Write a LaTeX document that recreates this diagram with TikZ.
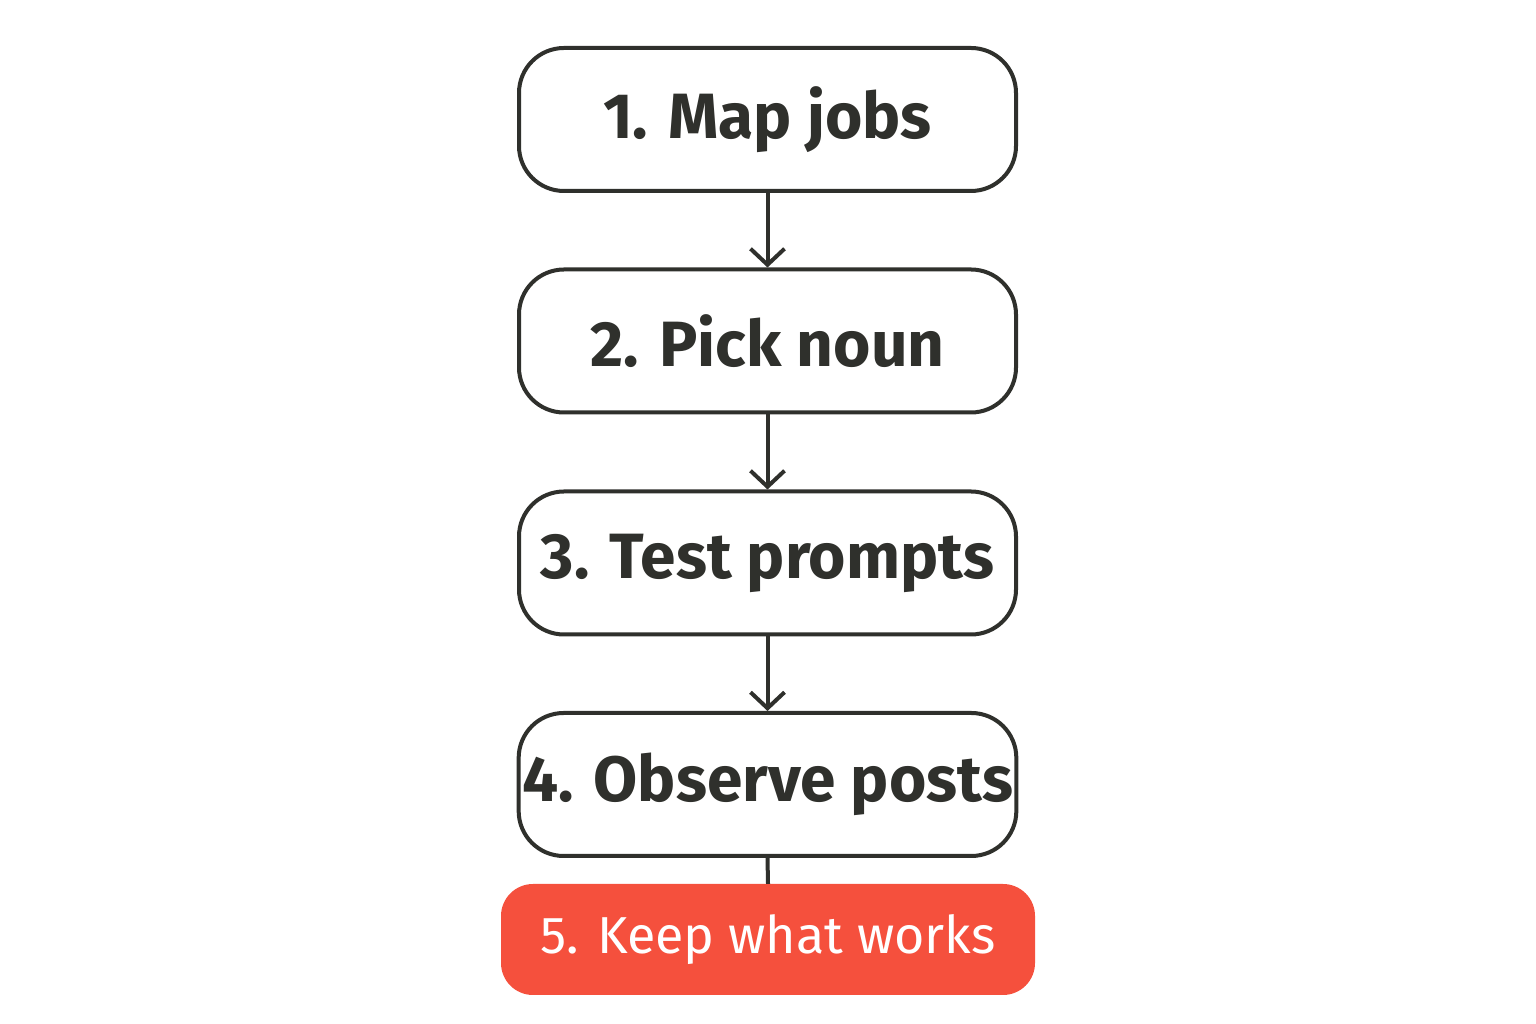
\documentclass[tikz,border=0pt]{standalone}
\usepackage{fontspec}
\setmainfont{Fira Sans}
\usetikzlibrary{arrows.meta}
\definecolor{ink}{HTML}{2F302C}
\definecolor{redbox}{HTML}{F5503D}
\begin{document}
\begin{tikzpicture}[x=1pt,y=1pt,
  stepbox/.style={draw=ink,line width=4pt,rounded corners=45pt,minimum width=497pt,minimum height=143pt,fill=white,text=ink,font=\fontsize{64}{70}\selectfont\bfseries},
  redstep/.style={fill=redbox,rounded corners=32pt,minimum width=534pt,minimum height=111pt,text=white,font=\fontsize{52}{60}\selectfont\mdseries},
  conn/.style={draw=ink,line width=4pt,-{Straight Barb[length=16pt,width=34pt,line width=4pt]}}]
\useasboundingbox (0,0) rectangle (1536,1024);
\node[stepbox] (a) at (767.5,904.5) {1. Map jobs};
\node[stepbox] (b) at (767.5,683) {2. Pick noun};
\node[stepbox] (c) at (767.5,461) {3. Test prompts};
\node[stepbox] (d) at (767.5,239.5) {4. Observe posts};
\node[redstep] (e) at (768,84.5) {5. Keep what works};
\draw[conn] (a.south) -- (b.north);
\draw[conn] (b.south) -- (c.north);
\draw[conn] (c.south) -- (d.north);
\draw[draw=ink,line width=4pt] (d.south) -- (e.north);
\end{tikzpicture}
\end{document}
